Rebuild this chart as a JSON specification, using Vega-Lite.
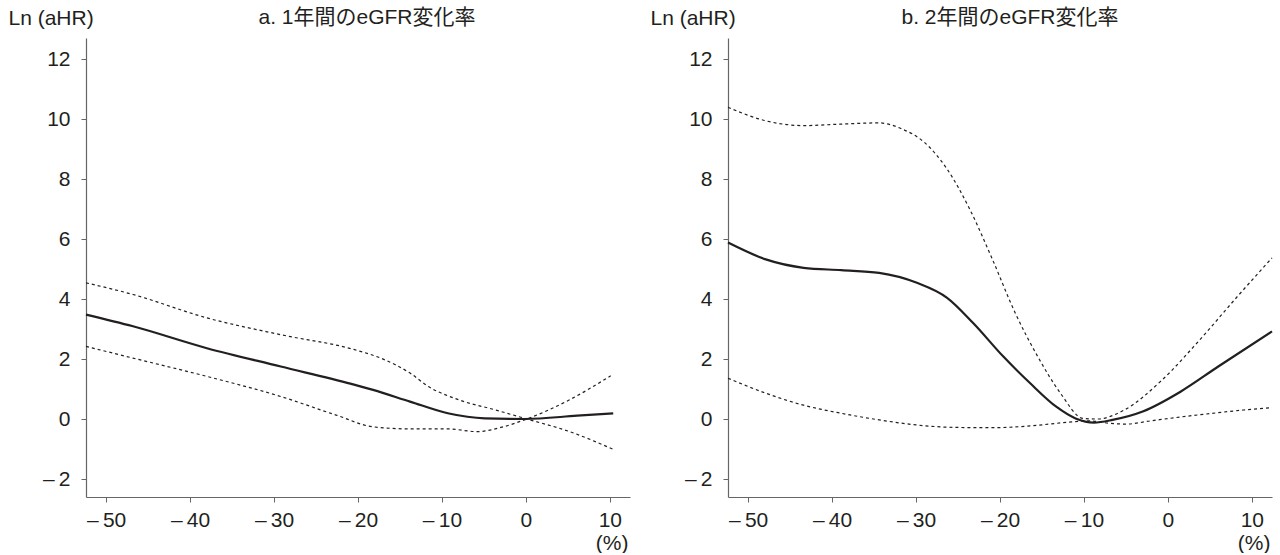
{
  "$schema": "https://vega.github.io/schema/vega-lite/v6.json",
  "padding": {"left": 8, "top": 7, "right": 0, "bottom": 0},
  "background": "white",
  "bounds": "flush",
  "spacing": 98,
  "config": {
    "view": {"stroke": null},
    "font": "Liberation Sans, Noto Sans CJK JP",
    "axis": {
      "grid": false,
      "domainColor": "#666666",
      "domainWidth": 1.2,
      "tickColor": "#666666",
      "tickSize": 5,
      "tickWidth": 1,
      "labelFont": "Liberation Sans",
      "labelFontSize": 21,
      "labelColor": "#231f20",
      "titleFont": "Liberation Sans, Noto Sans CJK JP",
      "titleFontSize": 21,
      "titleFontWeight": "normal",
      "titleColor": "#231f20"
    },
    "title": {"font": "Liberation Sans, Noto Sans CJK JP", "fontSize": 21, "fontWeight": "normal", "color": "#231f20"}
  },
  "datasets": {
    "curves": [
      {"panel": "a", "series": "est", "x": -52.4, "y": 3.48},
      {"panel": "a", "series": "est", "x": -46.8, "y": 3.09},
      {"panel": "a", "series": "est", "x": -38.0, "y": 2.36},
      {"panel": "a", "series": "est", "x": -29.2, "y": 1.75},
      {"panel": "a", "series": "est", "x": -20.8, "y": 1.17},
      {"panel": "a", "series": "est", "x": -18.2, "y": 0.97},
      {"panel": "a", "series": "est", "x": -13.8, "y": 0.58},
      {"panel": "a", "series": "est", "x": -9.3, "y": 0.19},
      {"panel": "a", "series": "est", "x": -4.9, "y": 0.02},
      {"panel": "a", "series": "est", "x": -0.1, "y": 0.0},
      {"panel": "a", "series": "est", "x": 6.1, "y": 0.11},
      {"panel": "a", "series": "est", "x": 10.4, "y": 0.19},

      {"panel": "a", "series": "upper", "x": -52.4, "y": 4.54},
      {"panel": "a", "series": "upper", "x": -46.8, "y": 4.15},
      {"panel": "a", "series": "upper", "x": -38.0, "y": 3.37},
      {"panel": "a", "series": "upper", "x": -29.2, "y": 2.81},
      {"panel": "a", "series": "upper", "x": -20.4, "y": 2.31},
      {"panel": "a", "series": "upper", "x": -17.3, "y": 2.03},
      {"panel": "a", "series": "upper", "x": -13.8, "y": 1.53},
      {"panel": "a", "series": "upper", "x": -11.6, "y": 1.08},
      {"panel": "a", "series": "upper", "x": -8.0, "y": 0.64},
      {"panel": "a", "series": "upper", "x": -3.6, "y": 0.30},
      {"panel": "a", "series": "upper", "x": 0.1, "y": 0.0},
      {"panel": "a", "series": "upper", "x": 5.2, "y": -0.42},
      {"panel": "a", "series": "upper", "x": 10.4, "y": -1.01},

      {"panel": "a", "series": "lower", "x": -52.4, "y": 2.42},
      {"panel": "a", "series": "lower", "x": -46.8, "y": 2.03},
      {"panel": "a", "series": "lower", "x": -38.0, "y": 1.42},
      {"panel": "a", "series": "lower", "x": -29.2, "y": 0.75},
      {"panel": "a", "series": "lower", "x": -22.6, "y": 0.13},
      {"panel": "a", "series": "lower", "x": -18.2, "y": -0.26},
      {"panel": "a", "series": "lower", "x": -13.8, "y": -0.33},
      {"panel": "a", "series": "lower", "x": -9.3, "y": -0.33},
      {"panel": "a", "series": "lower", "x": -5.8, "y": -0.42},
      {"panel": "a", "series": "lower", "x": -2.7, "y": -0.26},
      {"panel": "a", "series": "lower", "x": 0.1, "y": 0.0},
      {"panel": "a", "series": "lower", "x": 5.2, "y": 0.64},
      {"panel": "a", "series": "lower", "x": 10.1, "y": 1.44},

      {"panel": "b", "series": "est", "x": -52.4, "y": 5.88},
      {"panel": "b", "series": "est", "x": -47.9, "y": 5.32},
      {"panel": "b", "series": "est", "x": -43.4, "y": 5.04},
      {"panel": "b", "series": "est", "x": -38.9, "y": 4.96},
      {"panel": "b", "series": "est", "x": -34.4, "y": 4.87},
      {"panel": "b", "series": "est", "x": -29.9, "y": 4.54},
      {"panel": "b", "series": "est", "x": -26.3, "y": 4.04},
      {"panel": "b", "series": "est", "x": -23.2, "y": 3.2},
      {"panel": "b", "series": "est", "x": -19.6, "y": 2.08},
      {"panel": "b", "series": "est", "x": -16.4, "y": 1.19},
      {"panel": "b", "series": "est", "x": -13.3, "y": 0.41},
      {"panel": "b", "series": "est", "x": -11.0, "y": 0.02},
      {"panel": "b", "series": "est", "x": -8.8, "y": -0.12},
      {"panel": "b", "series": "est", "x": -6.6, "y": -0.03},
      {"panel": "b", "series": "est", "x": -3.0, "y": 0.25},
      {"panel": "b", "series": "est", "x": 1.5, "y": 0.91},
      {"panel": "b", "series": "est", "x": 6.0, "y": 1.75},
      {"panel": "b", "series": "est", "x": 12.4, "y": 2.92},

      {"panel": "b", "series": "upper", "x": -52.4, "y": 10.39},
      {"panel": "b", "series": "upper", "x": -47.9, "y": 9.94},
      {"panel": "b", "series": "upper", "x": -43.4, "y": 9.78},
      {"panel": "b", "series": "upper", "x": -38.9, "y": 9.83},
      {"panel": "b", "series": "upper", "x": -34.4, "y": 9.87},
      {"panel": "b", "series": "upper", "x": -31.7, "y": 9.67},
      {"panel": "b", "series": "upper", "x": -29.0, "y": 9.22},
      {"panel": "b", "series": "upper", "x": -26.3, "y": 8.33},
      {"panel": "b", "series": "upper", "x": -23.6, "y": 6.99},
      {"panel": "b", "series": "upper", "x": -20.9, "y": 5.32},
      {"panel": "b", "series": "upper", "x": -18.2, "y": 3.54},
      {"panel": "b", "series": "upper", "x": -15.5, "y": 2.08},
      {"panel": "b", "series": "upper", "x": -12.8, "y": 0.86},
      {"panel": "b", "series": "upper", "x": -10.1, "y": 0.02},
      {"panel": "b", "series": "upper", "x": -8.4, "y": 0.0},
      {"panel": "b", "series": "upper", "x": -5.2, "y": 0.30},
      {"panel": "b", "series": "upper", "x": -0.7, "y": 1.30},
      {"panel": "b", "series": "upper", "x": 3.8, "y": 2.64},
      {"panel": "b", "series": "upper", "x": 8.3, "y": 4.09},
      {"panel": "b", "series": "upper", "x": 12.4, "y": 5.37},

      {"panel": "b", "series": "lower", "x": -52.4, "y": 1.36},
      {"panel": "b", "series": "lower", "x": -47.9, "y": 0.86},
      {"panel": "b", "series": "lower", "x": -43.4, "y": 0.46},
      {"panel": "b", "series": "lower", "x": -38.9, "y": 0.19},
      {"panel": "b", "series": "lower", "x": -34.4, "y": -0.03},
      {"panel": "b", "series": "lower", "x": -29.9, "y": -0.2},
      {"panel": "b", "series": "lower", "x": -25.4, "y": -0.28},
      {"panel": "b", "series": "lower", "x": -20.9, "y": -0.29},
      {"panel": "b", "series": "lower", "x": -16.4, "y": -0.23},
      {"panel": "b", "series": "lower", "x": -12.0, "y": -0.11},
      {"panel": "b", "series": "lower", "x": -9.5, "y": -0.06},
      {"panel": "b", "series": "lower", "x": -7.0, "y": -0.14},
      {"panel": "b", "series": "lower", "x": -5.0, "y": -0.17},
      {"panel": "b", "series": "lower", "x": -2.0, "y": -0.06},
      {"panel": "b", "series": "lower", "x": 1.0, "y": 0.05},
      {"panel": "b", "series": "lower", "x": 5.0, "y": 0.18},
      {"panel": "b", "series": "lower", "x": 9.0, "y": 0.30},
      {"panel": "b", "series": "lower", "x": 12.4, "y": 0.38}
    ]
  },
  "hconcat": [
    {
      "width": 544,
      "height": 459,
      "title": {"text": "a. 1年間のeGFR変化率", "anchor": "middle", "frame": "group", "offset": 0, "baseline": "middle", "dx": 9, "dy": 32},
      "data": {"name": "curves"},
      "transform": [{"filter": "datum.panel === 'a'"}],
      "encoding": {
        "x": {
          "field": "x", "type": "quantitative",
          "scale": {"domain": [-52.4, 12.4], "nice": false, "zero": false},
          "axis": {
            "values": [-50, -40, -30, -20, -10, 0, 10],
            "title": "(%)", "titleX": 542, "titleY": 46, "titleAlign": "right", "titleBaseline": "middle",
            "labelPadding": 7, "labelFlush": false, "labelOverlap": false,
            "labelExpr": "datum.value < 0 ? '\u2013\u2009' + abs(datum.value) : datum.label"
          }
        },
        "y": {
          "field": "y", "type": "quantitative",
          "scale": {"domain": [-2.6, 12.7], "nice": false, "zero": false},
          "axis": {
            "values": [-2, 0, 2, 4, 6, 8, 10, 12],
            "title": "Ln (aHR)", "titleAngle": 0, "titleAlign": "left", "titleBaseline": "middle", "titleX": -78, "titleY": -20,
            "labelPadding": 11, "labelFlush": false, "labelOverlap": false,
            "labelExpr": "datum.value < 0 ? '\u2013\u2009' + abs(datum.value) : datum.label"
          }
        }
      },
      "layer": [
        {"transform": [{"filter": "datum.series === 'est'"}], "mark": {"type": "line", "color": "#231f20", "strokeWidth": 2.2, "interpolate": "monotone"}},
        {"transform": [{"filter": "datum.series !== 'est'"}], "mark": {"type": "line", "color": "#231f20", "strokeWidth": 1.2, "strokeDash": [3, 3], "interpolate": "monotone"}, "encoding": {"detail": {"field": "series"}}}
      ]
    },
    {
      "width": 544,
      "height": 459,
      "title": {"text": "b. 2年間のeGFR変化率", "anchor": "middle", "frame": "group", "offset": 0, "baseline": "middle", "dx": 10, "dy": 32},
      "data": {"name": "curves"},
      "transform": [{"filter": "datum.panel === 'b'"}],
      "encoding": {
        "x": {
          "field": "x", "type": "quantitative",
          "scale": {"domain": [-52.4, 12.4], "nice": false, "zero": false},
          "axis": {
            "values": [-50, -40, -30, -20, -10, 0, 10],
            "title": "(%)", "titleX": 542, "titleY": 46, "titleAlign": "right", "titleBaseline": "middle",
            "labelPadding": 7, "labelFlush": false, "labelOverlap": false,
            "labelExpr": "datum.value < 0 ? '\u2013\u2009' + abs(datum.value) : datum.label"
          }
        },
        "y": {
          "field": "y", "type": "quantitative",
          "scale": {"domain": [-2.6, 12.7], "nice": false, "zero": false},
          "axis": {
            "values": [-2, 0, 2, 4, 6, 8, 10, 12],
            "title": "Ln (aHR)", "titleAngle": 0, "titleAlign": "left", "titleBaseline": "middle", "titleX": -78, "titleY": -20,
            "labelPadding": 11, "labelFlush": false, "labelOverlap": false,
            "labelExpr": "datum.value < 0 ? '\u2013\u2009' + abs(datum.value) : datum.label"
          }
        }
      },
      "layer": [
        {"transform": [{"filter": "datum.series === 'est'"}], "mark": {"type": "line", "color": "#231f20", "strokeWidth": 2.2, "interpolate": "monotone"}},
        {"transform": [{"filter": "datum.series !== 'est'"}], "mark": {"type": "line", "color": "#231f20", "strokeWidth": 1.2, "strokeDash": [3, 3], "interpolate": "monotone"}, "encoding": {"detail": {"field": "series"}}}
      ]
    }
  ]
}
